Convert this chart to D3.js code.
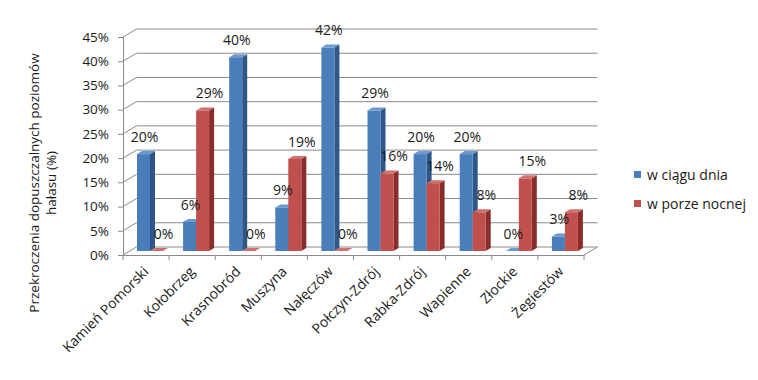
<!DOCTYPE html>
<html>
<head>
<meta charset="utf-8">
<script src="https://cdn.jsdelivr.net/npm/d3@7"></script>
<style>
  body { margin: 0; background: #fff; }
  text { font-family: "Open Sans", "Noto Sans", sans-serif; fill: #1a1a1a; }
</style>
</head>
<body>
<script>
const w = 758;
const h = 380;

const categories = ["Kamień Pomorski", "Kołobrzeg", "Krasnobród", "Muszyna", "Nałęczów",
  "Połczyn-Zdrój", "Rabka-Zdrój", "Wapienne", "Złockie", "Żegiestów"];
const seriesNames = ["w ciągu dnia", "w porze nocnej"];
const dayValues = [20, 6, 40, 9, 42, 29, 20, 20, 0, 3];
const nightValues = [0, 29, 0, 19, 0, 16, 14, 8, 15, 8];
const yTicks = [0, 5, 10, 15, 20, 25, 30, 35, 40, 45];
const yTitle = ["Przekroczenia dopuszczalnych poziomów", "hałasu (%)"];

const colors = {
  "w ciągu dnia": { front: "#4a7ebb", side: "#2e5688", top: "#6a98d0" },
  "w porze nocnej": { front: "#c0504d", side: "#8a2d2a", top: "#d0706d" }
};
// label nudge per series (Excel places 3D labels a bit to the right)
const labelNudge = { "w ciągu dnia": 1, "w porze nocnej": 7 };

// 3D depth: whole floor / wall depth, and bar placement inside it
const depth = { x: 13.5, y: -8 };
const barShift = { x: 6, y: -4 };
const barDepth = { x: 5, y: -3 };
const grid = "#8a8a8a";

const svg = d3.select("body").append("svg").attr("width", w).attr("height", h);

const x = d3.scaleBand().domain(categories).range([123, 584]);
const x1 = d3.scaleBand().domain(seriesNames).range([8, 34]);
const y = d3.scaleLinear().domain([0, 45]).range([255, 37]);

const rows = categories.map((c, i) => ({ cat: c, values: [dayValues[i], nightValues[i]] }));

// back wall grid + left wall diagonals
const g = svg.append("g");
g.selectAll("line.grid")
  .data(yTicks)
  .enter()
  .append("line")
  .attr("x1", x.range()[0] + depth.x)
  .attr("x2", x.range()[1] + depth.x)
  .attr("y1", d => y(d) + depth.y)
  .attr("y2", d => y(d) + depth.y)
  .attr("stroke", grid);
g.selectAll("line.diag")
  .data(yTicks)
  .enter()
  .append("line")
  .attr("x1", x.range()[0])
  .attr("x2", x.range()[0] + depth.x)
  .attr("y1", d => y(d))
  .attr("y2", d => y(d) + depth.y)
  .attr("stroke", grid);
// floor right edge
g.append("line")
  .attr("x1", x.range()[1]).attr("y1", y(0))
  .attr("x2", x.range()[1] + depth.x).attr("y2", y(0) + depth.y)
  .attr("stroke", grid);

// bars
rows.forEach(r => {
  seriesNames.forEach((s, j) => {
    const v = r.values[j];
    const x0 = x(r.cat) + x1(s) + barShift.x;
    const bw = x1.bandwidth();
    const yTop = y(v) + barShift.y;
    const yBase = y(0) + barShift.y;
    const c = colors[s];
    svg.append("polygon")
      .attr("points", [[x0 + bw, yTop], [x0 + bw + barDepth.x, yTop + barDepth.y],
        [x0 + bw + barDepth.x, yBase + barDepth.y], [x0 + bw, yBase]].join(" "))
      .attr("fill", c.side);
    svg.append("rect")
      .attr("x", x0).attr("y", yTop)
      .attr("width", bw).attr("height", yBase - yTop)
      .attr("fill", c.front);
    svg.append("polygon")
      .attr("points", [[x0, yTop], [x0 + barDepth.x, yTop + barDepth.y],
        [x0 + bw + barDepth.x, yTop + barDepth.y], [x0 + bw, yTop]].join(" "))
      .attr("fill", c.top);
  });
});

// value labels
rows.forEach(r => {
  seriesNames.forEach((s, j) => {
    const v = r.values[j];
    svg.append("text")
      .attr("x", x(r.cat) + x1(s) + barShift.x + x1.bandwidth() / 2 + labelNudge[s])
      .attr("y", y(v) + barShift.y - 17)
      .attr("dy", "0.35em")
      .attr("text-anchor", "middle")
      .style("font-size", "14px")
      .text(v + "%");
  });
});

// y axis
svg.append("g")
  .attr("transform", "translate(123,0)")
  .call(d3.axisLeft(y).tickValues(yTicks).tickSize(5).tickPadding(9).tickFormat(d => d + "%"))
  .call(a => a.selectAll("line, path").attr("stroke", grid))
  .call(a => a.selectAll("text").style("font-size", "13.5px").attr("fill", "#1a1a1a"));

// x axis
const xAxis = svg.append("g")
  .attr("transform", "translate(0,255)")
  .call(d3.axisBottom(x).tickSize(5).tickSizeOuter(0).tickFormat(""))
  .call(a => a.selectAll("line, path").attr("stroke", grid));
xAxis.selectAll(".tick line").attr("transform", "translate(" + (-x.bandwidth() / 2) + ",0)");
xAxis.append("line")
  .attr("x1", x.range()[1]).attr("x2", x.range()[1])
  .attr("y1", 0).attr("y2", 5).attr("stroke", grid);

svg.append("g")
  .selectAll("text")
  .data(categories)
  .enter()
  .append("text")
  .attr("transform", d => "translate(" + (x(d) + x.bandwidth() / 2 - 4) + ",265) rotate(-45)")
  .attr("text-anchor", "end")
  .attr("dy", "0.75em")
  .style("font-size", "14px")
  .text(d => d);

// y title
svg.append("g")
  .selectAll("text")
  .data(yTitle)
  .enter()
  .append("text")
  .attr("transform", (d, i) => "translate(" + (34 + i * 17) + ",183) rotate(-90)")
  .attr("text-anchor", "middle")
  .attr("dy", "0.35em")
  .style("font-size", "13.5px")
  .text(d => d);

// legend
const legend = svg.append("g").attr("transform", "translate(634,171)");
const li = legend.selectAll("g")
  .data(seriesNames)
  .enter()
  .append("g")
  .attr("transform", (d, i) => "translate(0," + i * 29 + ")");
li.append("rect").attr("width", 7).attr("height", 7).attr("fill", d => colors[d].front);
li.append("text")
  .attr("x", 13).attr("y", 4).attr("dy", "0.35em")
  .style("font-size", "14px")
  .text(d => d);
</script>
</body>
</html>
